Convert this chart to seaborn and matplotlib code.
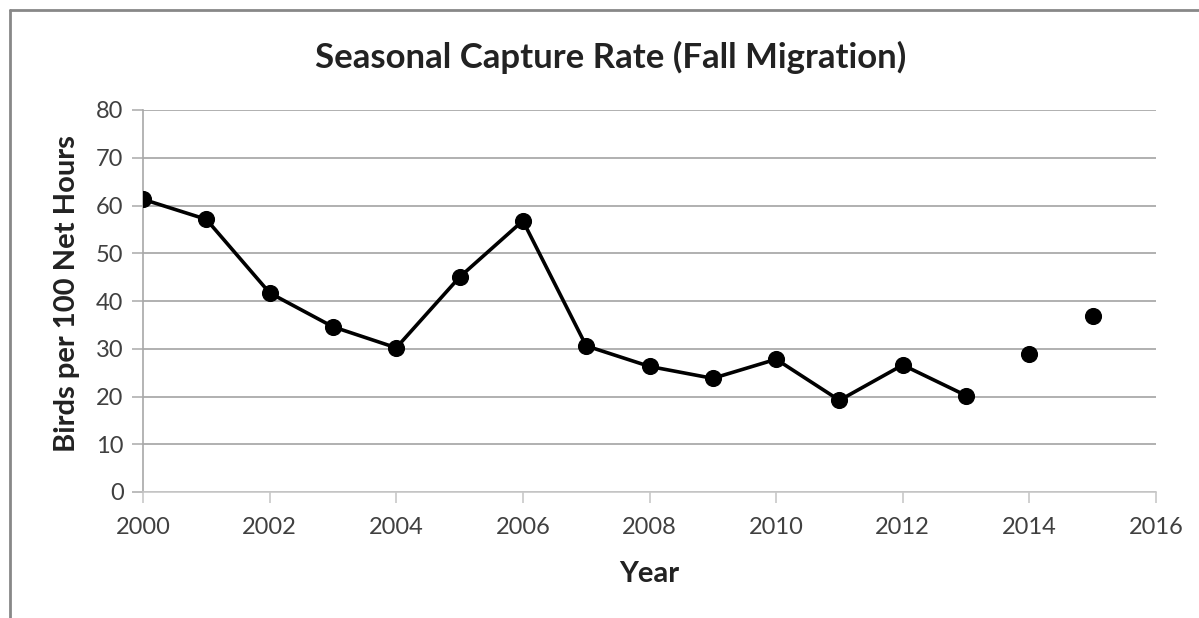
import matplotlib
matplotlib.use("Agg")
import matplotlib.pyplot as plt
import seaborn as sns
import pandas as pd
from matplotlib.lines import Line2D

years = [2000, 2001, 2002, 2003, 2004, 2005, 2006, 2007, 2008, 2009, 2010, 2011, 2012, 2013, 2014, 2015]
rates = [61.3, 57.1, 41.7, 34.6, 30.2, 45.0, 56.8, 30.6, 26.3, 23.8, 27.8, 19.2, 26.6, 20.2, 28.8, 36.8]
connected = [True] * 14 + [False] * 2

title = "Seasonal Capture Rate (Fall Migration)"
xlabel = "Year"
ylabel = "Birds per 100 Net Hours"
xticks = [2000, 2002, 2004, 2006, 2008, 2010, 2012, 2014, 2016]
yticks = [0, 10, 20, 30, 40, 50, 60, 70, 80]

df = pd.DataFrame({"year": years, "rate": rates, "connected": connected})

sns.set_theme(style="white")
plt.rcParams["font.family"] = ["Lato", "DejaVu Sans"]

fig = plt.figure(figsize=(11.99, 6.18), dpi=100)
ax = fig.add_axes([143/1199, 1 - 492/618, (1156-143)/1199, (492-110)/618])

sns.lineplot(data=df[df["connected"]], x="year", y="rate", ax=ax, color="black", linewidth=2.6)
sns.scatterplot(data=df, x="year", y="rate", ax=ax, color="black", s=130, edgecolor="black", zorder=5)

ax.set_xlim(2000, 2016)
ax.set_ylim(0, 80)
ax.set_xticks(xticks)
ax.set_yticks(yticks)
ax.set_xticklabels([str(t) for t in xticks], fontsize=17, color="#404040")
ax.set_yticklabels([str(t) for t in yticks], fontsize=17, color="#404040")

ax.yaxis.grid(True, color="#b0b0b0", linewidth=1.4)
ax.xaxis.grid(False)
ax.set_axisbelow(True)
for s in ["top", "right"]:
    ax.spines[s].set_visible(False)
ax.spines["left"].set_color("#a8a8a8")
ax.spines["left"].set_linewidth(1.2)
ax.spines["bottom"].set_color("#c8c8c8")
ax.spines["bottom"].set_linewidth(1.2)
ax.tick_params(axis="x", direction="out", length=8, width=1.2, color="#c8c8c8", pad=10, bottom=True)
ax.tick_params(axis="y", direction="out", length=8, width=1.2, color="#b0b0b0", pad=6, left=True)

ax.set_xlabel(xlabel, fontsize=21, fontweight="bold", color="#222222")
ax.set_ylabel(ylabel, fontsize=21, fontweight="bold", color="#222222")
ax.xaxis.label.set_va("center")
ax.yaxis.label.set_va("center")
ax.xaxis.set_label_coords(0.5, (492 - 574) / 382)
ax.yaxis.set_label_coords((67 - 143) / 1013, (492 - 294) / 382)
fig.text(611/1199, 1 - 57/618, title, ha="center", va="center", fontsize=25, fontweight="bold", color="#222222")

# outer frame (top and left edges visible)
fig.add_artist(Line2D([10/1199, 10/1199], [0, 1 - 10/618], transform=fig.transFigure, color="#888888", linewidth=2))
fig.add_artist(Line2D([10/1199, 1], [1 - 10/618, 1 - 10/618], transform=fig.transFigure, color="#888888", linewidth=2))

fig.savefig("out.png", dpi=100)
